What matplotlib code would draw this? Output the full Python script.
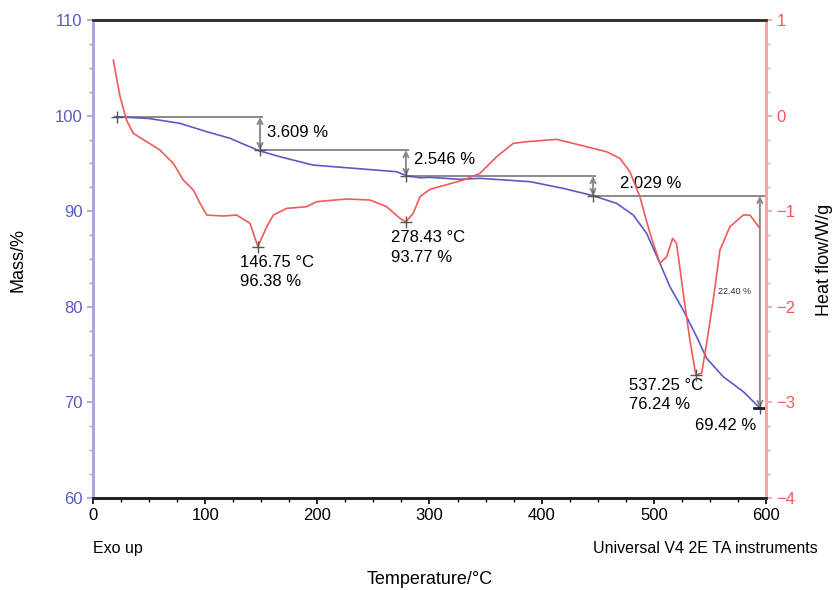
import matplotlib.pyplot as plt
from matplotlib.ticker import MultipleLocator

plt.rcParams['font.family'] = ['Liberation Sans', 'DejaVu Sans']

# TG curve (mass %)
temp_mass = [19.6, 50, 77.6, 101.4, 122.1, 148.0, 166.7, 196.1, 226.2, 270.7, 279.7,
             291.5, 300.4, 327.2, 345, 389.6, 419.3, 446, 466.9, 481.7, 493.6, 505.5,
             514.4, 526.3, 538.2, 547.1, 561.9, 579.8, 594.6]
mass = [99.89, 99.7, 99.19, 98.32, 97.63, 96.33, 95.70, 94.83, 94.55, 94.13, 93.71,
        93.50, 93.54, 93.34, 93.44, 93.09, 92.39, 91.62, 90.82, 89.60, 87.69, 84.55,
        82.10, 79.64, 76.87, 74.61, 72.69, 71.12, 69.42]

# DSC curve (heat flow W/g)
temp_hf = [18.1, 24.1, 30, 35.9, 47.9, 59.7, 71.6, 80.5, 89.4, 95.4, 101.4, 116.2,
           128.1, 140, 147, 154.9, 160.8, 172.7, 190.5, 199.4, 226.2, 247, 261.8,
           273.7, 279, 285.6, 291.5, 300.4, 330.1, 345, 359.9, 374.7, 386.6, 413.4,
           434.2, 458, 469.8, 478.7, 487.6, 496.6, 505.5, 511.5, 516.8, 520.3, 526.3,
           532.2, 537.5, 542.7, 547.1, 553, 559, 567.9, 579.8, 585.7, 594.6]
heat_flow = [0.58, 0.20, -0.05, -0.185, -0.273, -0.36, -0.50, -0.674, -0.778, -0.917,
             -1.04, -1.05, -1.04, -1.127, -1.37, -1.162, -1.04, -0.97, -0.953, -0.90,
             -0.872, -0.883, -0.953, -1.075, -1.11, -1.022, -0.848, -0.771, -0.674,
             -0.604, -0.43, -0.29, -0.273, -0.248, -0.308, -0.378, -0.447, -0.587,
             -0.848, -1.231, -1.545, -1.476, -1.284, -1.336, -1.859, -2.347, -2.713,
             -2.695, -2.382, -1.929, -1.406, -1.162, -1.04, -1.04, -1.179]

# mass loss steps: (temperature of step, mass before, mass after, label)
step_temp = [148.9, 279.0, 445.8, 594.6]
step_top = [99.85, 96.40, 93.68, 91.60]
step_bottom = [96.40, 93.68, 91.60, 69.42]
step_start = [21.4, 148.9, 279.0, 445.8]
step_labels = ["3.609 %", "2.546 %", "2.029 %", "22.40 %"]

# DSC peaks
peak_temp = [147.0, 279.0, 537.5]
peak_hf = [-1.37, -1.11, -2.71]
peak_labels = ["146.75 °C\n96.38 %", "278.43 °C\n93.77 %", "537.25 °C\n76.24 %"]

blue = "#5a5ac8"
red = "#f25a5a"
grey = "#8a8a8a"

fig = plt.figure(figsize=(8.38, 5.90), dpi=100)
ax = fig.add_axes([0.111, 0.156, 0.803, 0.81])
ax2 = ax.twinx()

ax.plot(temp_mass, mass, color=blue, lw=1.2, zorder=3)
ax2.plot(temp_hf, heat_flow, color=red, lw=1.2)

ax.set_xlim(0, 600)
ax.set_ylim(60, 110)
ax2.set_ylim(-4, 1)

ax.xaxis.set_major_locator(MultipleLocator(100))
ax.xaxis.set_minor_locator(MultipleLocator(25))
ax.yaxis.set_major_locator(MultipleLocator(10))
ax.yaxis.set_minor_locator(MultipleLocator(2.5))
ax2.yaxis.set_major_locator(MultipleLocator(1))
ax2.yaxis.set_minor_locator(MultipleLocator(0.25))

ax.tick_params(axis='x', which='both', direction='out', colors='black', labelsize=12)
ax.tick_params(axis='x', which='major', length=4, width=1.2)
ax.tick_params(axis='x', which='minor', length=3, width=1)
ax.tick_params(axis='y', which='both', direction='out', color='#a0a0e0', labelcolor=blue, labelsize=12)
ax.tick_params(axis='y', which='major', length=4, width=1.2)
ax.tick_params(axis='y', which='minor', length=3, width=1)
ax2.tick_params(axis='y', which='both', direction='out', color='#f5a0a0', labelcolor=red, labelsize=12)
ax2.tick_params(axis='y', which='major', length=4, width=1.2)
ax2.tick_params(axis='y', which='minor', length=3, width=1)
ax2.set_yticks([1, 0, -1, -2, -3, -4])
ax2.set_yticklabels(["1", "0", "\u22121", "\u22122", "\u22123", "\u22124"])

for a in (ax, ax2):
    a.spines['top'].set_color('#333333')
    a.spines['top'].set_linewidth(2)
    a.spines['bottom'].set_color('#222222')
    a.spines['bottom'].set_linewidth(2)
    a.spines['left'].set_color('#a8a8e4')
    a.spines['left'].set_linewidth(2)
    a.spines['right'].set_color('#f5a5a5')
    a.spines['right'].set_linewidth(2)

# step annotations
for i in range(len(step_temp)):
    end = step_temp[i] + 2 if i + 1 < len(step_temp) else 600
    ax.plot([step_start[i], end], [step_top[i], step_top[i]], color=grey, lw=1.4, zorder=2)
    ax.annotate("", xy=(step_temp[i], step_bottom[i]), xytext=(step_temp[i], step_top[i]),
                arrowprops=dict(arrowstyle='<->', color=grey, lw=1.4, shrinkA=0, shrinkB=0,
                                mutation_scale=9), zorder=2)
    ax.plot(step_temp[i], step_bottom[i], marker='+', color='#555555', ms=8, mew=1, zorder=4)
ax.plot(step_start[0], step_top[0], marker='+', color='#555555', ms=8, mew=1, zorder=4)
ax.plot([step_temp[3] - 5, step_temp[3] + 5], [step_bottom[3], step_bottom[3]], color='#222222', lw=2, zorder=4)

ax.text(155, 98.2, step_labels[0], fontsize=12, va='center')
ax.text(286.5, 95.4, step_labels[1], fontsize=12, va='center')
ax.text(470, 92.95, step_labels[2], fontsize=12, va='center')
ax.text(557, 81.55, step_labels[3], fontsize=6.5, va='center', color='#333333')

# DSC peak annotations
for t, h in zip(peak_temp, peak_hf):
    ax2.plot(t, h, marker='+', color='#555555', ms=8, mew=1, zorder=4)
ax.text(131, 85.4, peak_labels[0], fontsize=12, va='top', linespacing=1.35)
ax.text(265.5, 88.0, peak_labels[1], fontsize=12, va='top', linespacing=1.35)
ax.text(477.5, 72.6, peak_labels[2], fontsize=12, va='top', linespacing=1.35)
ax.text(536.5, 67.6, "69.42 %", fontsize=12, va='center')

fig.text(0.021, 0.56, "Mass/%", rotation=90, fontsize=13, ha='center', va='center')
fig.text(0.984, 0.56, "Heat flow/W/g", rotation=90, fontsize=13, ha='center', va='center')
fig.text(0.111, 0.071, "Exo up", fontsize=11.5, va='center')
fig.text(0.976, 0.071, "Universal V4 2E TA instruments", fontsize=11.5, va='center', ha='right')
fig.text(0.513, 0.017, "Temperature/°C", fontsize=13, ha='center', va='center')

fig.savefig("out.png", dpi=100)
